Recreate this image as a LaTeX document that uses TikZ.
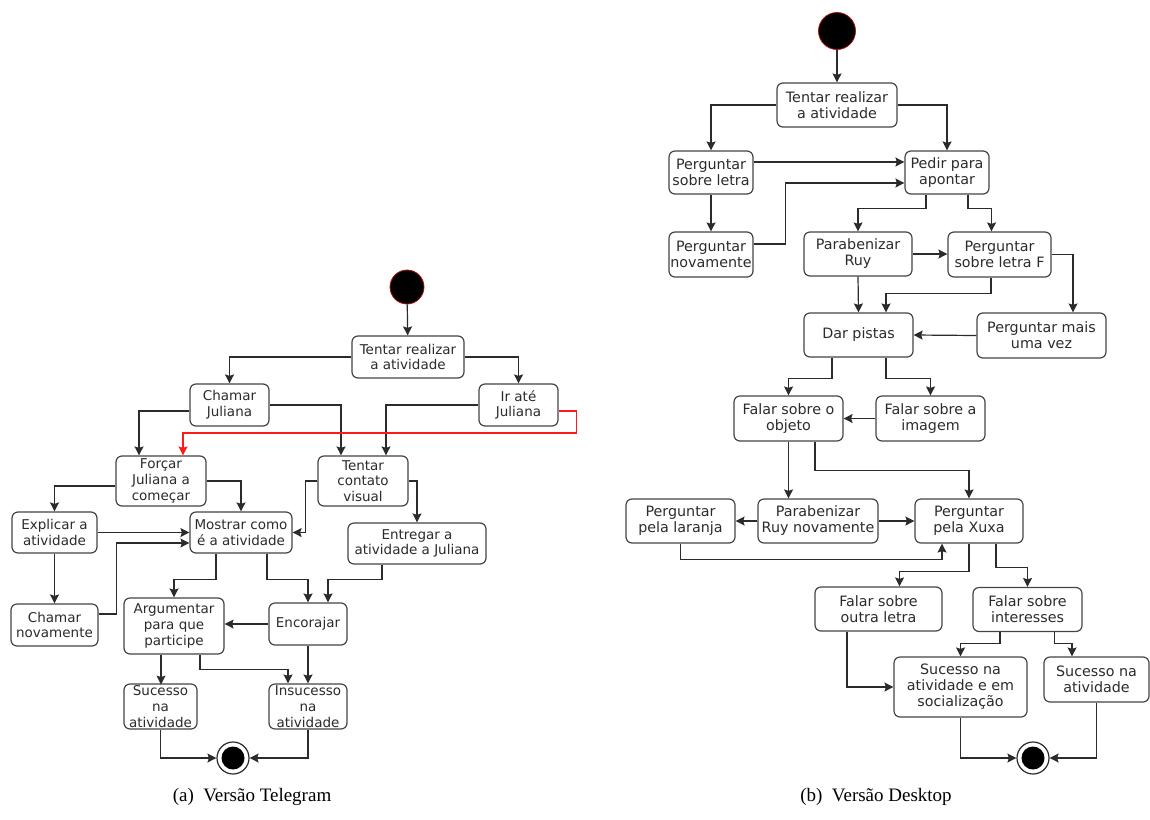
\documentclass[tikz,border=0pt]{standalone}
\usepackage{fontspec}
\setmainfont{Liberation Serif}
\newfontfamily\boxfont{DejaVu Sans}
\usepackage{xcolor}
\usetikzlibrary{arrows.meta}
\definecolor{ink}{HTML}{2B2B2B}
\definecolor{frame}{HTML}{444444}
\definecolor{alert}{HTML}{FF1A1A}
\tikzset{
  box/.style={draw=frame, rounded corners=6pt, line width=1.2pt, align=center, inner sep=0pt, text=ink},
  sz/.style 2 args={minimum width=#1pt, minimum height=#2pt},
  lbox/.style={box, font=\boxfont\fontsize{13.5}{15.8}\selectfont},
  rbox/.style={box, font=\boxfont\fontsize{14.3}{16}\selectfont},
  flow/.style={draw=ink, line width=1.2pt, -{Stealth[length=9pt, width=9pt, inset=1.5pt]}},
  redflow/.style={flow, draw=alert},
  startdot/.style={circle, fill=black, draw=alert!70!black, line width=0.8pt, minimum size=#1pt, inner sep=0pt},
  enddot/.style={circle, draw=ink, fill=white, line width=1.2pt, minimum size=32pt, inner sep=0pt,
    path picture={\fill[black] (path picture bounding box.center) circle (11.5pt);}},
  caption/.style={font=\fontsize{19}{21}\selectfont, text=black}
}
\begin{document}
\begin{tikzpicture}[x=1pt, y=-1pt]
  \useasboundingbox (0,0) rectangle (1150,819);

  % (a) Telegram
  \node[startdot=34] (sa) at (407,287) {};
  \node[lbox, sz={112}{42}] (ta) at (408,357) {Tentar realizar\\a atividade};
  \node[lbox, sz={79}{42}] (chamar) at (229.5,405) {Chamar\\Juliana};
  \node[lbox, sz={79}{42}] (ir) at (518.5,405) {Ir até\\Juliana};
  \node[lbox, sz={90}{50}] (forcar) at (161,481) {Forçar\\Juliana a\\começar};
  \node[lbox, sz={90}{50}] (contato) at (363,481) {Tentar\\contato\\visual};
  \node[lbox, sz={85}{41}] (explicar) at (54.5,532.5) {Explicar a\\atividade};
  \node[lbox, sz={102}{41}] (mostrar) at (241,532.5) {Mostrar como\\é a atividade};
  \node[lbox, sz={138}{41}] (entregar) at (417,543.5) {Entregar a\\atividade a Juliana};
  \node[lbox, sz={87}{42}] (chamarnov) at (54.5,625) {Chamar\\novamente};
  \node[lbox, sz={100}{56}] (argumentar) at (174,626) {Argumentar\\para que\\participe};
  \node[lbox, sz={78}{42}] (encorajar) at (308,624) {Encorajar};
  \node[lbox, sz={73}{45}] (sucesso) at (160.5,706.5) {Sucesso\\na\\atividade};
  \node[lbox, sz={78}{45}] (insucesso) at (308,706.5) {Insucesso\\na\\atividade};
  \node[enddot] (ea) at (233,758) {};

  \draw[flow] (sa) -- (ta);
  \draw[flow] (ta.west) -| (chamar.north);
  \draw[flow] (ta.east) -| (ir.north);
  \draw[flow] ([yshift=-6pt]chamar.west) -| ([xshift=-22pt]forcar.north);
  \draw[flow] (chamar.east) -| ([xshift=-22pt]contato.north);
  \draw[flow] (ir.west) -| ([xshift=23pt]contato.north);
  \draw[redflow] ([yshift=-6pt]ir.east) -- ++(18,0) -- ++(0,22) -| ([xshift=22pt]forcar.north);
  \draw[flow] ([yshift=-5pt]forcar.west) -| (explicar.north);
  \draw[flow] (forcar.east) -| (mostrar.north);
  \draw[flow] (explicar.east) -- (mostrar.west);
  \draw[flow] (explicar.south) -- (chamarnov.north);
  \draw[flow] ([yshift=11pt]chamarnov.east) -- ++(18,0) |- ([yshift=-10.5pt]mostrar.west);
  \draw[flow] (contato.west) -- ++(-12,0) |- (mostrar.east);
  \draw[flow] (contato.east) -| (entregar.north);
  \draw[flow] ([xshift=-25pt]mostrar.south) -- ++(0,26) -| (argumentar.north);
  \draw[flow] ([xshift=26pt]mostrar.south) -- ++(0,26) -| (encorajar.north);
  \draw[flow] ([xshift=-35pt]entregar.south) -- ++(0,15) -| ([xshift=20pt]encorajar.north);
  \draw[flow] (encorajar.west) -- (encorajar.west -| argumentar.east);
  \draw[flow] ([xshift=-13pt]argumentar.south) -- ++(0,30);
  \draw[flow] ([xshift=26pt]argumentar.south) -- ++(0,15) -| ([xshift=-20pt]insucesso.north);
  \draw[flow] (encorajar.south) -- (insucesso.north);
  \draw[flow] (sucesso.south) |- (ea.west);
  \draw[flow] (insucesso.south) |- (ea.east);

  % (b) Desktop
  \node[startdot=37] (sb) at (837,31) {};
  \node[rbox, sz={120}{44}] (tb) at (837,105) {Tentar realizar\\a atividade};
  \node[rbox, sz={84}{43}] (pletra) at (711,172.5) {Perguntar\\sobre letra};
  \node[rbox, sz={84}{43}] (pedir) at (947,172.5) {Pedir para\\apontar};
  \node[rbox, sz={84}{45}] (pnov) at (711,254.5) {Perguntar\\novamente};
  \node[rbox, sz={108}{44}] (parab) at (858,254) {Parabenizar\\Ruy};
  \node[rbox, sz={103}{45}] (pletraf) at (999.5,254.5) {Perguntar\\sobre letra F};
  \node[rbox, sz={109}{44}] (pistas) at (858.5,335) {Dar pistas};
  \node[rbox, sz={129}{45}] (pmais) at (1041.5,335.5) {Perguntar mais\\uma vez};
  \node[rbox, sz={109}{45}] (fobj) at (788.5,418.5) {Falar sobre o\\objeto};
  \node[rbox, sz={109}{45}] (fimg) at (930.5,418.5) {Falar sobre a\\imagem};
  \node[rbox, sz={109}{44}] (laranja) at (680.5,521) {Perguntar\\pela laranja};
  \node[rbox, sz={120}{44}] (parabnov) at (818,521) {Parabenizar\\Ruy novamente};
  \node[rbox, sz={108}{44}] (xuxa) at (969,521) {Perguntar\\pela Xuxa};
  \node[rbox, sz={127}{44}] (outra) at (878.5,609) {Falar sobre\\outra letra};
  \node[rbox, sz={109}{44}] (interesses) at (1027.5,609.5) {Falar sobre\\interesses};
  \node[rbox, sz={133}{60}] (social) at (960.5,687) {Sucesso na\\atividade e em\\socialização};
  \node[rbox, sz={105}{45}] (sucesso2) at (1096.5,679.5) {Sucesso na\\atividade};
  \node[enddot] (eb) at (1033,758) {};

  \draw[flow] (sb) -- (tb);
  \draw[flow] (tb.west) -| (pletra.north);
  \draw[flow] (tb.east) -| (pedir.north);
  \draw[flow] ([yshift=10.5pt]pletra.east) -- ([yshift=10.5pt]pedir.west);
  \draw[flow] (pletra.south) -- (pnov.north);
  \draw[flow] ([yshift=10.5pt]pnov.east) -- ++(32,0) |- ([yshift=-10.5pt]pedir.west);
  \draw[flow] ([xshift=-21pt]pedir.south) -- ++(0,14) -| (parab.north);
  \draw[flow] ([xshift=21pt]pedir.south) -- ++(0,14) -| ([xshift=-8pt]pletraf.north);
  \draw[flow] (parab.east) -- (parab.east -| pletraf.west);
  \draw[flow] (pletraf.east) -| ([xshift=31.5pt]pmais.north);
  \draw[flow] ([xshift=-8.5pt]pletraf.south) -- ++(0,16) -| ([xshift=27.5pt]pistas.north);
  \draw[flow] (parab.south) -- (pistas.north);
  \draw[flow] (pmais.west) -- (pistas.east);
  \draw[flow] ([xshift=-26.5pt]pistas.south) -- ++(0,21) -| (fobj.north);
  \draw[flow] ([xshift=27.5pt]pistas.south) -- ++(0,21) -| (fimg.north);
  \draw[flow] (fimg.west) -- (fobj.east);
  \draw[flow] (fobj.south) -- (fobj.south |- parabnov.north);
  \draw[flow] ([xshift=26.5pt]fobj.south) -- ++(0,29) -| (xuxa.north);
  \draw[flow] (parabnov.west) -- (laranja.east);
  \draw[flow] (parabnov.east) -- (xuxa.west);
  \draw[flow] (laranja.south) -- ++(0,16) -| ([xshift=-27pt]xuxa.south);
  \draw[flow] (xuxa.south) -- ++(0,28) -| ([xshift=21pt]outra.north);
  \draw[flow] ([xshift=27pt]xuxa.south) -- ++(0,24) -| (interesses.north);
  \draw[flow] ([xshift=-27.5pt]interesses.south) -- ++(0,11) -| (social.north);
  \draw[flow] ([xshift=27pt]interesses.south) -- ++(0,11) -| ([xshift=-24.5pt]sucesso2.north);
  \draw[flow] ([xshift=-31.5pt]outra.south) |- (social.west);
  \draw[flow] (social.south) |- (eb.west);
  \draw[flow] (sucesso2.south) |- (eb.east);

  % captions
  \node[caption] (capa) at (252,797) {(a)\enspace Versão Telegram};
  \node[caption] (capb) at (876,797) {(b)\enspace Versão Desktop};
\end{tikzpicture}
\end{document}
